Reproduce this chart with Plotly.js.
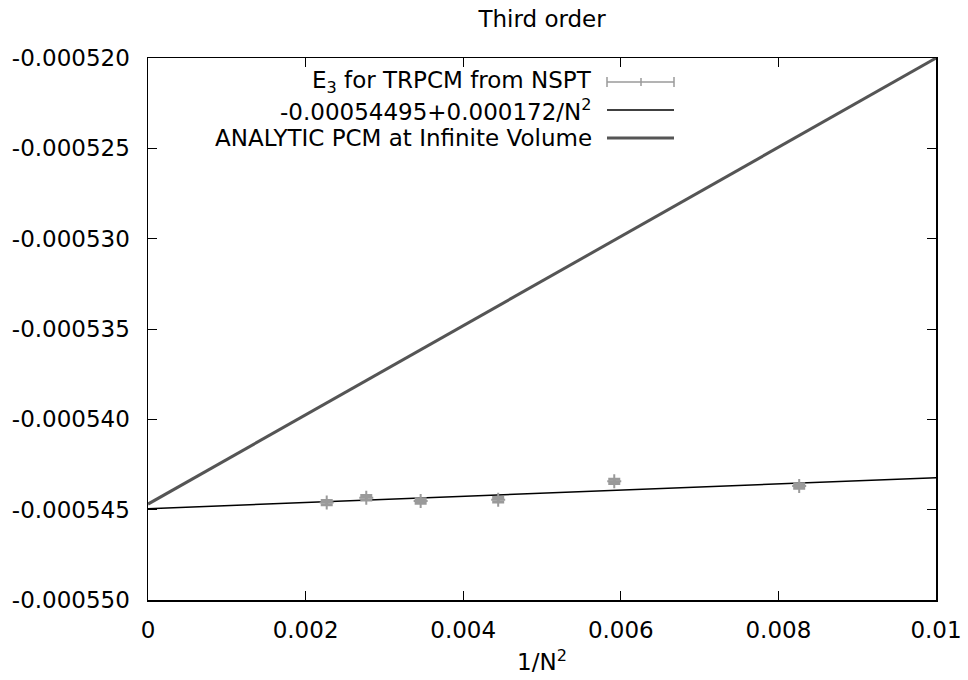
<!DOCTYPE html>
<html>
<head>
<meta charset="utf-8">
<script src="https://cdn.plot.ly/plotly-3.0.1.min.js"></script>
<style>html,body{margin:0;padding:0;background:#fff;}#chart{width:968px;height:680px;}</style>
</head>
<body>
<div id="chart"></div>
<script>
// 1/N^2 for N = 21, 19, 17, 15, 13, 11
const invN2 = [0.002268, 0.002770, 0.003460, 0.004444, 0.005917, 0.008264];
const e3Values = [-0.00054461, -0.00054434, -0.00054452, -0.00054445, -0.00054343, -0.00054369];
const e3Errors = [0.00000012, 0.00000012, 0.00000012, 0.00000012, 0.00000012, 0.00000012];

const fitIntercept = -0.00054495;
const fitSlope = 0.000172;
const analyticIntercept = -0.00054469;
const analyticSlope = 0.0024686;
const lineX = [0, 0.01];

const yTickVals = [-0.000550, -0.000545, -0.000540, -0.000535, -0.000530, -0.000525, -0.000520];
const xTickVals = [0, 0.002, 0.004, 0.006, 0.008, 0.01];

const legendLabels = [
  'E<sub>3</sub> for TRPCM from NSPT',
  '-0.00054495+0.000172/N<sup>2</sup>',
  'ANALYTIC PCM at Infinite Volume'
];

const font = 'DejaVu Sans, sans-serif';
const fs = 23;
const grey = '#9a9a9a';

const traces = [
  {
    x: lineX, y: lineX.map(v => analyticIntercept + analyticSlope * v),
    mode: 'lines', line: {color: '#555555', width: 3}, hoverinfo: 'skip'
  },
  {
    x: lineX, y: lineX.map(v => fitIntercept + fitSlope * v),
    mode: 'lines', line: {color: '#000000', width: 1.5}, hoverinfo: 'skip'
  },
  {
    x: invN2, y: e3Values, mode: 'markers',
    marker: {symbol: 'cross-thin', size: 10, line: {color: grey, width: 2}, color: grey},
    error_y: {type: 'data', array: e3Errors, visible: true, color: grey, thickness: 3, width: 6}
  }
];

// legend (gnuplot style: text right-aligned, sample on the right)
const L = 148, R = 936, T = 58, B = 600;
const px = x => (x - L) / (R - L);
const py = y => (B - y) / (B - T);
const rows = [82, 110, 138];
const textRight = 594, sX0 = 607, sX1 = 674;

const annotations = legendLabels.map((t, i) => ({
  text: t, xref: 'paper', yref: 'paper', x: px(textRight), y: py(rows[i]),
  xanchor: 'right', yanchor: 'middle', showarrow: false,
  font: {family: font, size: fs, color: '#000'}
}));

const shapes = [
  {type: 'line', xref: 'paper', yref: 'paper', x0: px(sX0), x1: px(sX1), y0: py(rows[0]), y1: py(rows[0]), line: {color: grey, width: 1.5}},
  {type: 'line', xref: 'paper', yref: 'paper', x0: px(sX0), x1: px(sX0), y0: py(rows[0] - 5), y1: py(rows[0] + 5), line: {color: grey, width: 1.5}},
  {type: 'line', xref: 'paper', yref: 'paper', x0: px(sX1), x1: px(sX1), y0: py(rows[0] - 5), y1: py(rows[0] + 5), line: {color: grey, width: 1.5}},
  {type: 'line', xref: 'paper', yref: 'paper', x0: px(641), x1: px(641), y0: py(rows[0] - 4), y1: py(rows[0] + 4), line: {color: grey, width: 1.5}},
  {type: 'line', xref: 'paper', yref: 'paper', x0: px(sX0), x1: px(sX1), y0: py(rows[1]), y1: py(rows[1]), line: {color: '#000', width: 1.5}},
  {type: 'line', xref: 'paper', yref: 'paper', x0: px(sX0), x1: px(sX1), y0: py(rows[2]), y1: py(rows[2]), line: {color: '#555555', width: 3}}
];

const layout = {
  width: 968, height: 680,
  margin: {l: L, r: 968 - R, t: T, b: 680 - B},
  paper_bgcolor: '#fff', plot_bgcolor: '#fff',
  showlegend: false,
  font: {family: font, size: fs, color: '#000'},
  title: {text: 'Third order', x: 0.56, xanchor: 'center', y: 0.972, yanchor: 'middle', font: {family: font, size: fs}},
  xaxis: {
    range: [0, 0.01], tickvals: xTickVals, ticktext: xTickVals.map(v => v === 0 ? '0' : String(v)),
    ticks: 'inside', ticklen: 9, tickwidth: 1, tickcolor: '#000', ticklabelstandoff: 9,
    showline: true, linecolor: '#000', linewidth: 1.5, mirror: 'ticks',
    showgrid: false, zeroline: false,
    title: {text: '1/N<sup>2</sup>', standoff: 12, font: {family: font, size: fs}},
    tickfont: {family: font, size: fs}
  },
  yaxis: {
    range: [-0.000550, -0.000520], tickvals: yTickVals, ticktext: yTickVals.map(v => v.toFixed(6)),
    ticks: 'inside', ticklen: 9, tickwidth: 1, tickcolor: '#000', ticklabelstandoff: 12,
    showline: true, linecolor: '#000', linewidth: 1.5, mirror: 'ticks',
    showgrid: false, zeroline: false,
    tickfont: {family: font, size: fs}
  },
  annotations: annotations,
  shapes: shapes
};

Plotly.newPlot('chart', traces, layout, {staticPlot: true});
</script>
</body>
</html>
